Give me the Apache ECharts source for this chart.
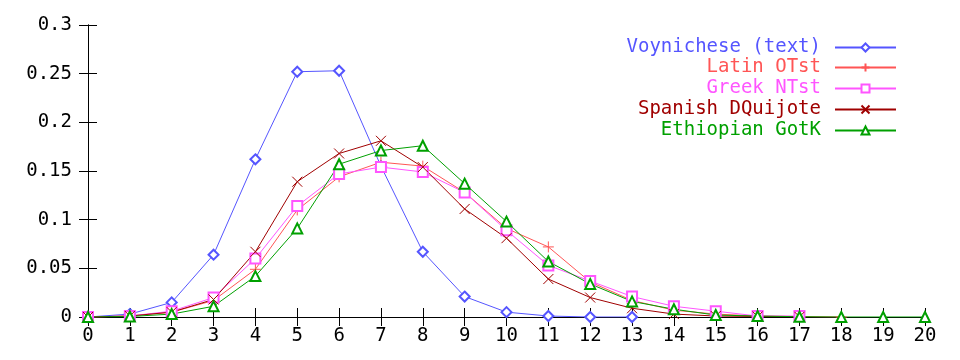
<!DOCTYPE html>
<html>
<head>
<meta charset="utf-8">
<script src="https://cdn.jsdelivr.net/npm/echarts@6/dist/echarts.min.js"></script>
<style>html,body{margin:0;padding:0;background:#fff}#c{width:960px;height:360px}</style>
</head>
<body>
<div id="c"></div>
<script>
var xs = [0,1,2,3,4,5,6,7,8,9,10,11,12,13,14,15,16,17,18,19,20];
var yTicks = [0,0.05,0.1,0.15,0.2,0.25,0.3];
var names = ['Voynichese (text)','Latin OTst','Greek NTst','Spanish DQuijote','Ethiopian GotK'];
var voynich = [0,0.003,0.015,0.064,0.162,0.252,0.253,0.155,0.067,0.021,0.005,0.001,0,0];
var latin = [0,0.001,0.005,0.017,0.049,0.110,0.144,0.159,0.155,0.128,0.091,0.072,0.036,0.017,0.007,0.003,0.001,0.0005,0];
var greek = [0,0.001,0.006,0.020,0.060,0.114,0.147,0.154,0.149,0.128,0.089,0.053,0.037,0.021,0.011,0.006,0.001,0.001];
var spanish = [0,0.001,0.005,0.018,0.067,0.139,0.168,0.181,0.154,0.111,0.081,0.039,0.020,0.009,0.003,0.001,0.0005,0.0002];
var ethiopian = [0,0.0005,0.003,0.011,0.042,0.091,0.157,0.171,0.176,0.137,0.098,0.057,0.034,0.016,0.008,0.002,0.001,0.0003,0,0,0];

var colors = ['#5555ff','#ff5555','#ff55ff','#a00000','#00a000'];
var symbols = ['emptyDiamond','path://M5,0L5,10M0,5L10,5','emptyRect','path://M0,0L10,10M10,0L0,10','emptyTriangle'];
var sizes = [10,11,10,10,10];
var allData = [voynich, latin, greek, spanish, ethiopian];
var FONT = 'DejaVu Sans Mono';

var series = allData.map(function(arr, i){
  return {
    name: names[i], type: 'line',
    data: arr.map(function(v, j){ return [xs[j], v]; }),
    symbol: symbols[i], symbolSize: sizes[i],
    lineStyle: {color: colors[i], width: 1},
    itemStyle: {color: colors[i], borderColor: colors[i], borderWidth: 1},
    emphasis: {disabled: true},
    animation: false
  };
});

var legendTops = [38, 58, 79, 100, 121];
var legends = names.map(function(n, i){
  return {
    data: [n], right: 63, top: legendTops[i], align: 'right', padding: 0,
    itemWidth: 61, itemHeight: 10,
    textStyle: {color: colors[i], fontFamily: FONT, fontSize: 19, padding: [0, 9, 0, 0]},
    selectedMode: false
  };
});

var axisCommon = {
  axisLine: {show: true, lineStyle: {color: '#000', width: 1}},
  axisTick: {show: true, inside: true, length: 9, lineStyle: {color: '#000', width: 1}},
  splitLine: {show: false}
};

var option = {
  backgroundColor: '#fff',
  animation: false,
  grid: {left: 88, right: 35, top: 25, bottom: 43},
  legend: legends,
  xAxis: [
    Object.assign({type: 'value', min: xs[0], max: xs[xs.length-1], interval: 1, position: 'bottom',
      axisLabel: {color: '#000', fontFamily: FONT, fontSize: 19, margin: 10}}, axisCommon),
    Object.assign({type: 'value', min: xs[0], max: xs[xs.length-1], interval: 1, position: 'top',
      axisLabel: {show: false}}, axisCommon)
  ],
  yAxis: [
    Object.assign({type: 'value', min: yTicks[0], max: yTicks[yTicks.length-1], interval: 0.05, position: 'left',
      axisLabel: {color: '#000', fontFamily: FONT, fontSize: 19, margin: 16}}, axisCommon),
    Object.assign({type: 'value', min: yTicks[0], max: yTicks[yTicks.length-1], interval: 0.05, position: 'right',
      axisLabel: {show: false}}, axisCommon)
  ],
  series: series
};
var chart = echarts.init(document.getElementById('c'), null, {renderer: 'canvas'});
chart.setOption(option);
</script>
</body>
</html>
